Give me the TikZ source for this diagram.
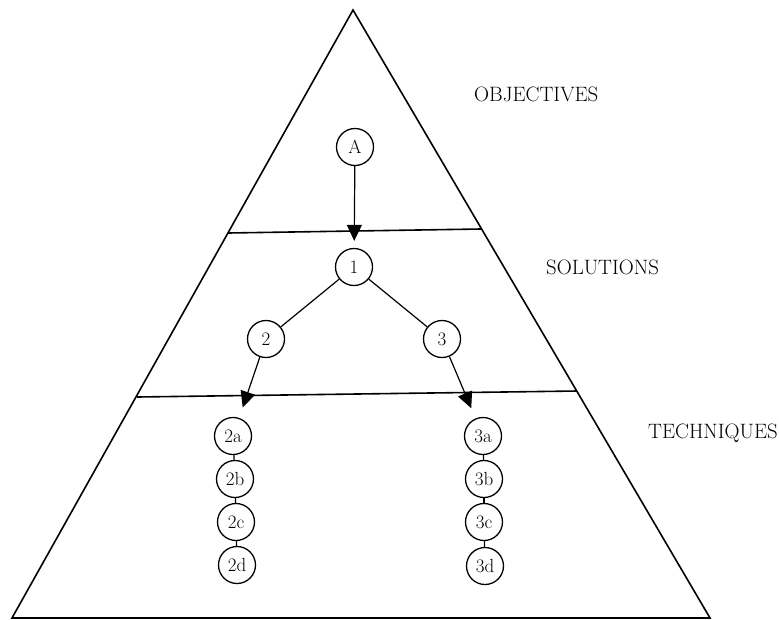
\documentclass[tikz,border=0pt]{standalone}
\usepackage{tikz}
\usetikzlibrary{arrows.meta, positioning, calc}
\tikzset{
    pyrnode/.style={circle, draw=black, line width=1.3pt, minimum size=37pt, inner sep=0pt, font=\fontsize{19}{21}\selectfont},
    pyrlabel/.style={anchor=west, inner sep=0pt, font=\fontsize{20.8}{24}\selectfont},
    pyrline/.style={line width=1.6pt},
    pyrarrow/.style={-{Triangle[length=16pt,width=15pt]}, line width=1.2pt},
    pyrlink/.style={line width=1.2pt}
}
\begin{document}
\begin{tikzpicture}[x=1pt, y=-1pt]
    \useasboundingbox (0,0) rectangle (779,619);

    % Pyramid outline
    \coordinate (apex) at (353,10);
    \coordinate (bl) at (12,618);
    \coordinate (br) at (710,618);
    \draw[pyrline, line join=miter] (apex) -- (bl) -- (br) -- cycle;

    % Level dividers
    \coordinate (u1) at (228,233);
    \coordinate (u2) at (481,229);
    \coordinate (l1) at (137,397);
    \coordinate (l2) at (577,391);
    \draw[pyrline] (u1) -- (u2);
    \draw[pyrline] (l1) -- (l2);

    % Level labels
    \node[pyrlabel] (obj) at (474,94) {OBJECTIVES};
    \node[pyrlabel] (sol) at (546,267) {SOLUTIONS};
    \node[pyrlabel] (tech) at (648,433) {TECHNIQUES};

    % Tree
    \node[pyrnode] (A) at (355,147) {A};
    \node[pyrnode] (n1) at (354,267) {1};
    \node[pyrnode] (n2) at (266,339) {2};
    \node[pyrnode] (n3) at (442,339) {3};

    \node[pyrnode] (n2a) at (233,436) {2a};
    \node[pyrnode] (n2b) at (235,479) {2b};
    \node[pyrnode] (n2c) at (236,522) {2c};
    \node[pyrnode] (n2d) at (237,565) {2d};

    \node[pyrnode] (n3a) at (483,436) {3a};
    \node[pyrnode] (n3b) at (484,479) {3b};
    \node[pyrnode] (n3c) at (484,522) {3c};
    \node[pyrnode] (n3d) at (485,566) {3d};

    \draw[pyrarrow, shorten >=7pt] (A) -- (n1);
    \draw[pyrlink] (n1) -- (n2);
    \draw[pyrlink] (n1) -- (n3);
    \draw[pyrarrow, shorten >=11pt] (n2) -- (n2a);
    \draw[pyrarrow, shorten >=11pt] (n3) -- (n3a);

    % Technique chains
    \draw[pyrlink] (n2a) -- (n2b);
    \draw[pyrlink] (n2b) -- (n2c);
    \draw[pyrlink] (n2c) -- (n2d);
    \draw[pyrlink] (n3a) -- (n3b);
    \draw[pyrlink] (n3b) -- (n3c);
    \draw[pyrlink] (n3c) -- (n3d);
\end{tikzpicture}
\end{document}
